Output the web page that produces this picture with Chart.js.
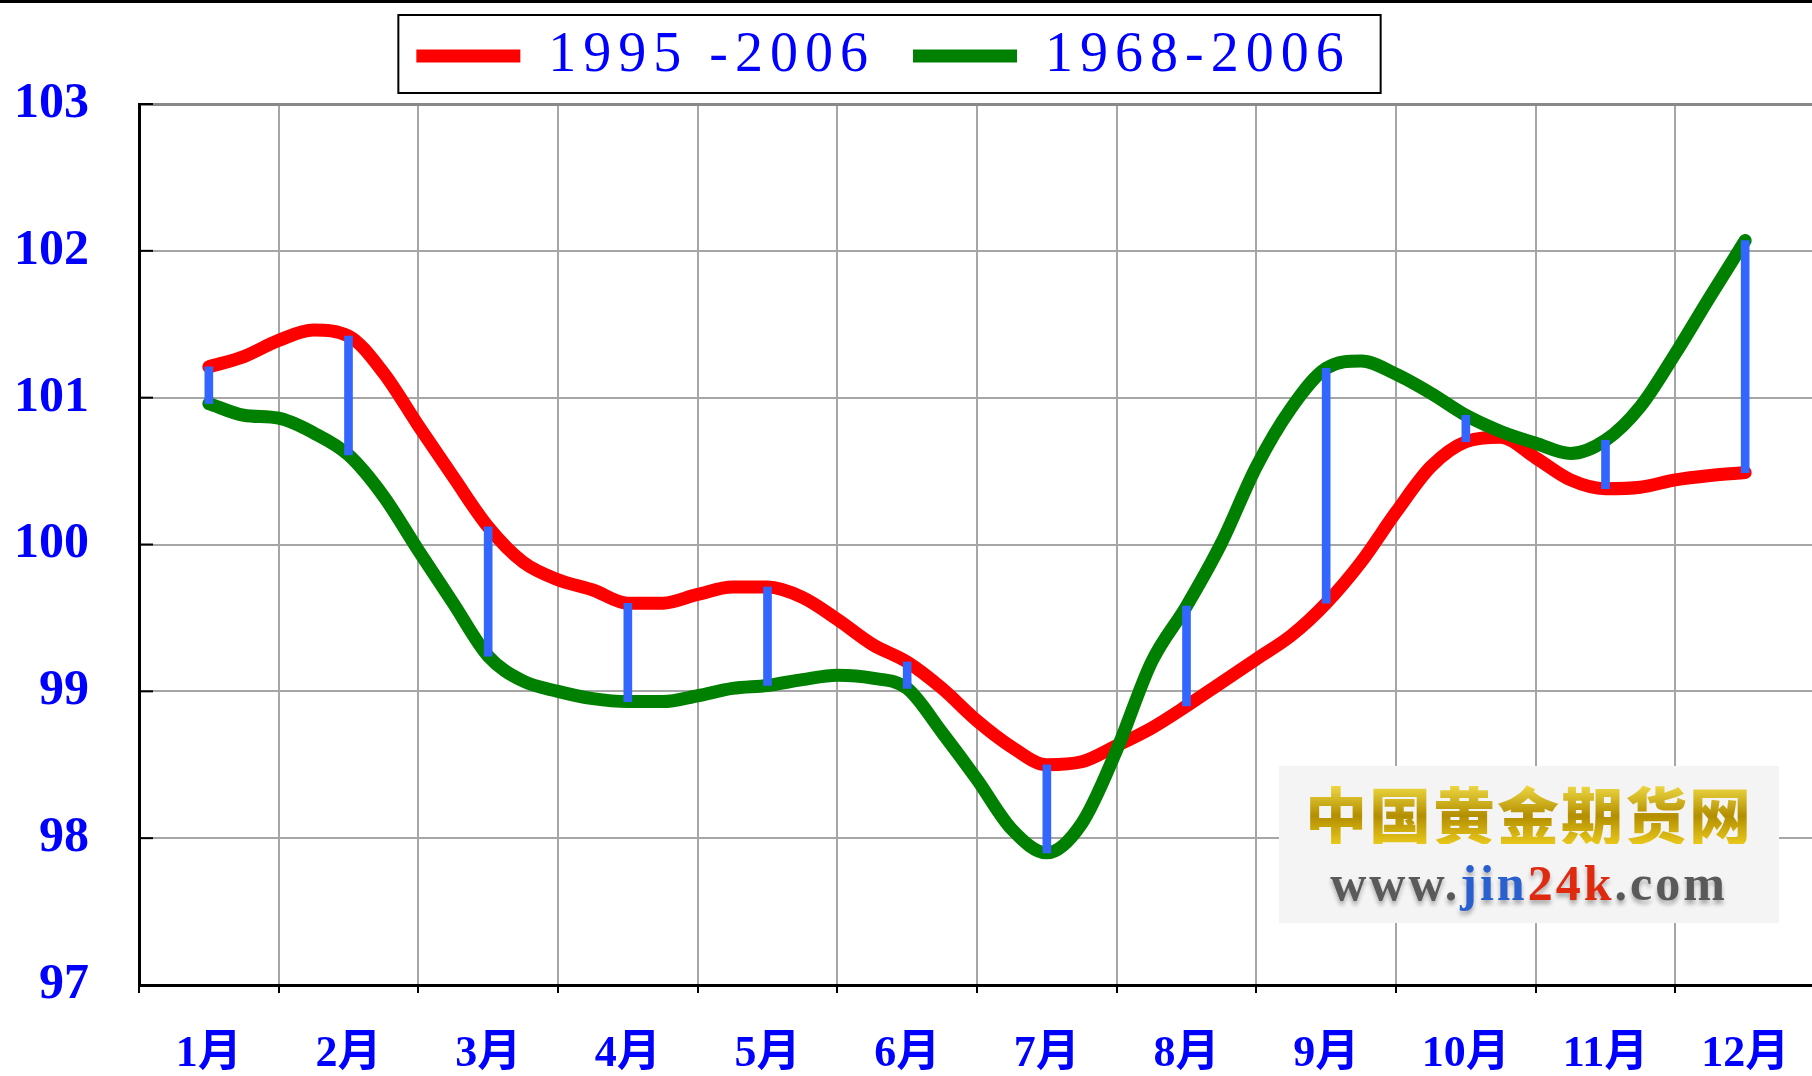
<!DOCTYPE html>
<html lang="zh">
<head>
<meta charset="UTF-8">
<title>黄金月度季节性 1995-2006 / 1968-2006</title>
<script src="https://cdn.jsdelivr.net/npm/chart.js"></script>
<style>
  html, body { margin: 0; padding: 0; background: #fff; overflow: hidden; }
  .wrap { position: relative; width: 1815px; height: 1076px; }
  .topbar { position: absolute; left: 0; top: 0; width: 1815px; height: 3px; background: #000; z-index: 2; }
  .logo { position: absolute; left: 1279px; top: 766px; width: 500px; height: 157px; background: #f4f4f4; text-align: center; }
  .logo .cn { font-family: 'Noto Sans CJK SC'; font-weight: 900; font-size: 62px; line-height: 1; margin-top: 16px; letter-spacing: 2px;
              background: linear-gradient(#f4e04a, #b38e00 55%, #e8c81c); -webkit-background-clip: text; background-clip: text; color: transparent; }
  .logo .url { font-family: 'Liberation Serif'; font-weight: bold; font-size: 50px; line-height: 1; margin-top: 14px; letter-spacing: 3px;
               color: #5a5a5a; text-shadow: 0 4px 4px rgba(0,0,0,0.3); }
  .logo .url .b { color: #2a5fd0; }
  .logo .url .r { color: #e02a10; }
</style>
</head>
<body>
<div class="wrap">
  <div class="topbar"></div>
  <canvas id="chart" width="1815" height="1076"></canvas>
  <div class="logo">
    <div class="cn">中国黄金期货网</div>
    <div class="url">www.<span class="b">jin</span><span class="r">24k</span>.com</div>
  </div>
</div>

<script>
// positions in months (quarter-month steps), month centre = whole number
const xPos = [1, 1.25, 1.5, 1.75, 2, 2.25, 2.5, 2.75, 3, 3.25, 3.5, 3.75,
              4, 4.25, 4.5, 4.75, 5, 5.25, 5.5, 5.75, 6, 6.25, 6.5, 6.75,
              7, 7.25, 7.5, 7.75, 8, 8.25, 8.5, 8.75, 9, 9.25, 9.5, 9.75,
              10, 10.25, 10.5, 10.75, 11, 11.25, 11.5, 11.75, 12];

// 1995-2006 (red)
const r1995 = [101.21, 101.28, 101.39, 101.46, 101.42, 101.17, 100.81, 100.46,
               100.12, 99.88, 99.76, 99.69, 99.60, 99.60, 99.66, 99.71,
               99.71, 99.64, 99.49, 99.32, 99.20, 99.02, 98.80, 98.62,
               98.50, 98.52, 98.63, 98.75, 98.90, 99.06, 99.22, 99.38,
               99.60, 99.88, 100.22, 100.53, 100.70, 100.73, 100.59, 100.44,
               100.38, 100.39, 100.44, 100.47, 100.49];

// 1968-2006 (green)
const r1968 = [100.96, 100.88, 100.86, 100.76, 100.61, 100.33, 99.96, 99.60,
               99.24, 99.07, 99.00, 98.95, 98.93, 98.93, 98.97, 99.02,
               99.04, 99.08, 99.11, 99.09, 99.02, 98.72, 98.40, 98.06,
               97.90, 98.10, 98.60, 99.20, 99.58, 100.01, 100.53, 100.93,
               101.20, 101.25, 101.16, 101.03, 100.88, 100.77, 100.69, 100.62,
               100.71, 100.94, 101.30, 101.69, 102.07];

const months = ['1月', '2月', '3月', '4月', '5月', '6月', '7月', '8月', '9月', '10月', '11月', '12月'];
const seriesNames = ['1995 -2006', '1968-2006'];

const serif = "'Liberation Serif', 'Noto Sans CJK SC', serif";
const LEGEND_DX = -24, LEGEND_DY = -10;

// blue bars between the two curves at each month centre
const gapBars = months.map((m, i) => {
  const k = xPos.indexOf(i + 1);
  return { x: i + 1, y: [r1968[k], r1995[k]] };
});

const isMonth = c => c.tick !== undefined && Number.isInteger(c.tick.value);
const isTop = c => c.tick !== undefined && c.tick.value === 103;

// wider letter spacing and a small shift for the legend only
const legendStyle = {
  id: 'legendStyle',
  afterInit(chart) {
    const lg = chart.legend;
    const fit = lg.fit.bind(lg), draw = lg.draw.bind(lg);
    lg.fit = function() {
      const c = chart.ctx, prev = c.letterSpacing;
      c.letterSpacing = '7px';
      fit();
      c.letterSpacing = prev;
    };
    lg.draw = function() {
      const c = chart.ctx, prev = c.letterSpacing;
      c.save();
      c.translate(LEGEND_DX, LEGEND_DY);
      c.letterSpacing = '7px';
      draw();
      c.letterSpacing = prev;
      c.restore();
    };
  }
};

const decor = {
  id: 'decor',
  afterDraw(chart) {
    const { ctx, chartArea: a, scales: { y } } = chart;
    ctx.save();
    ctx.strokeStyle = '#000';
    ctx.lineWidth = 2;
    // inward tick marks on the value axis
    y.ticks.forEach(t => {
      const py = y.getPixelForValue(t.value);
      ctx.beginPath(); ctx.moveTo(a.left, py); ctx.lineTo(a.left + 14, py); ctx.stroke();
    });
    // frame around the legend
    const hb = chart.legend.legendHitBoxes;
    if (hb && hb.length) {
      const last = hb[hb.length - 1];
      const l = hb[0].left - 18 + LEGEND_DX, r = last.left + last.width + 30 + LEGEND_DX;
      const t = hb[0].top - 13 + LEGEND_DY, b = hb[0].top + 65 + LEGEND_DY;
      ctx.strokeRect(l, t, r - l, b - t);
    }
    ctx.restore();
  }
};

new Chart(document.getElementById('chart'), {
  type: 'line',
  data: {
    datasets: [
      { label: seriesNames[0], data: xPos.map((x, i) => ({ x, y: r1995[i] })),
        borderColor: '#ff0000', backgroundColor: '#ff0000', borderWidth: 13,
        borderCapStyle: 'round', borderJoinStyle: 'round', pointRadius: 0,
        cubicInterpolationMode: 'monotone', order: 2 },
      { label: seriesNames[1], data: xPos.map((x, i) => ({ x, y: r1968[i] })),
        borderColor: '#008000', backgroundColor: '#008000', borderWidth: 13,
        borderCapStyle: 'round', borderJoinStyle: 'round', pointRadius: 0,
        cubicInterpolationMode: 'monotone', order: 1 },
      { type: 'bar', label: 'gap', data: gapBars, backgroundColor: '#3366ff',
        barThickness: 8, borderSkipped: false, order: 0 }
    ]
  },
  options: {
    responsive: false,
    animation: false,
    layout: { padding: 0 },
    plugins: {
      tooltip: { enabled: false },
      legend: {
        position: 'top',
        labels: {
          usePointStyle: true, pointStyle: 'line', pointStyleWidth: 104,
          padding: 38, color: '#0000ff',
          font: { family: serif, size: 56 },
          filter: item => item.datasetIndex < 2,
          sort: (a, b) => a.datasetIndex - b.datasetIndex
        }
      }
    },
    scales: {
      x: {
        type: 'linear', min: 0.5, max: 12.5, offset: false,
        afterFit: s => { s.height = 91; s.paddingLeft = 0; s.paddingRight = 0; },
        ticks: {
          stepSize: 0.5, autoSkip: false, maxRotation: 0, padding: 35,
          color: '#0000ff', font: { family: serif, size: 44, weight: 'bold' },
          callback: v => Number.isInteger(v) ? months[v - 1] : ''
        },
        grid: {
          offset: false,
          color: c => isMonth(c) ? 'rgba(0,0,0,0)' : '#a6a6a6',
          tickColor: c => isMonth(c) ? 'rgba(0,0,0,0)' : '#000',
          lineWidth: 2, tickLength: 8, tickWidth: 2
        },
        border: { color: '#000', width: 3 }
      },
      y: {
        min: 97, max: 103,
        afterFit: s => { s.width = 139; },
        ticks: { stepSize: 1, padding: 50, color: '#0000ff', font: { family: serif, size: 50, weight: 'bold' } },
        grid: {
          drawTicks: false,
          color: c => isTop(c) ? '#888' : '#a6a6a6',
          lineWidth: c => isTop(c) ? 3 : 2
        },
        border: { color: '#000', width: 3 }
      }
    }
  },
  plugins: [legendStyle, decor]
});
</script>
</body>
</html>
